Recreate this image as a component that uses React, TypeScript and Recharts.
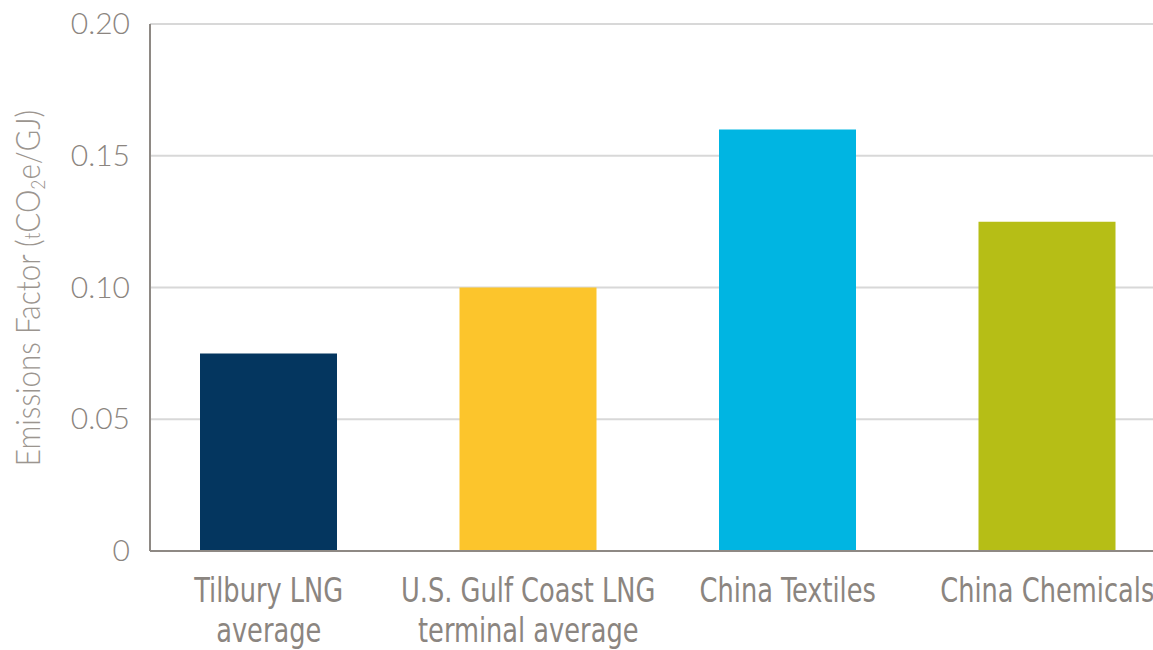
import { BarChart, Bar, XAxis, YAxis, CartesianGrid, Cell } from "recharts";

const categories = [
  "Tilbury LNG\naverage",
  "U.S. Gulf Coast LNG\nterminal average",
  "China Textiles",
  "China Chemicals",
];
const emissionFactors = [0.075, 0.1, 0.16, 0.125];
const barColors = ["#04365f", "#fcc52c", "#00b5e2", "#b6be16"];
const yTicks = [0, 0.05, 0.1, 0.15, 0.2];

const data = categories.map((name, i) => ({ name, value: emissionFactors[i] }));

const textGray = "#8b8580";
const labelFont = "'DejaVu Sans Condensed', 'DejaVu Sans', sans-serif";

function CategoryTick({ x, y, payload }: { x: number; y: number; payload: { value: string } }) {
  const lines = String(payload.value).split("\n");
  // the source face is narrower than anything installed, so squeeze it a bit
  return (
    <g transform={`translate(${x},${y}) scale(0.84,1)`}>
      <text x={0} y={0} textAnchor="middle" fill={textGray} fontSize={34} fontFamily={labelFont}>
        {lines.map((line, i) => (
          <tspan key={i} x={0} dy={i === 0 ? 51 : 40}>
            {line}
          </tspan>
        ))}
      </text>
    </g>
  );
}

function ValueTick({ x, y, payload }: { x: number; y: number; payload: { value: number } }) {
  const v = payload.value;
  return (
    <text
      x={x}
      y={y}
      dy={10}
      textAnchor="end"
      fill={textGray}
      fontSize={30}
      fontWeight={300}
      fontFamily="Lato, 'Liberation Sans', sans-serif"
    >
      {v === 0 ? "0" : v.toFixed(2)}
    </text>
  );
}

function AxisTitle() {
  return (
    <g transform="translate(40,288) rotate(-90) scale(0.87,1)">
      <text
        x={0}
        y={0}
        textAnchor="middle"
        fill="#9b958f"
        fontSize={34}
        fontWeight={300}
        fontFamily="Lato, sans-serif"
      >
        Emissions Factor (
        <tspan fontSize={22}>t</tspan>
        CO
        <tspan fontSize={20} dy={5}>2</tspan>
        <tspan dy={-5}>e/GJ)</tspan>
      </text>
    </g>
  );
}

export default function App() {
  return (
    <div style={{ position: "absolute", left: 0, top: 0, background: "#fff" }}>
      <BarChart
        width={1153}
        height={650}
        data={data}
        margin={{ top: 24, right: -24, bottom: 0, left: 0 }}
      >
        <CartesianGrid vertical={false} stroke="#d8d8d8" strokeWidth={2} />
        <XAxis
          dataKey="name"
          interval={0}
          height={99}
          padding={{ left: -11, right: 0 }}
          tickLine={false}
          tickSize={0}
          tickMargin={0}
          axisLine={{ stroke: "#8e8984", strokeWidth: 2 }}
          tick={CategoryTick as any}
        />
        <YAxis
          width={150}
          domain={[0, 0.2]}
          ticks={yTicks}
          interval={0}
          tickLine={false}
          tickSize={0}
          tickMargin={20}
          axisLine={{ stroke: "#8e8984", strokeWidth: 2 }}
          tick={ValueTick as any}
          label={{ content: () => <AxisTitle /> }}
        />
        <Bar dataKey="value" barSize={137} isAnimationActive={false}>
          {data.map((_, i) => (
            <Cell key={i} fill={barColors[i]} />
          ))}
        </Bar>
      </BarChart>
    </div>
  );
}
